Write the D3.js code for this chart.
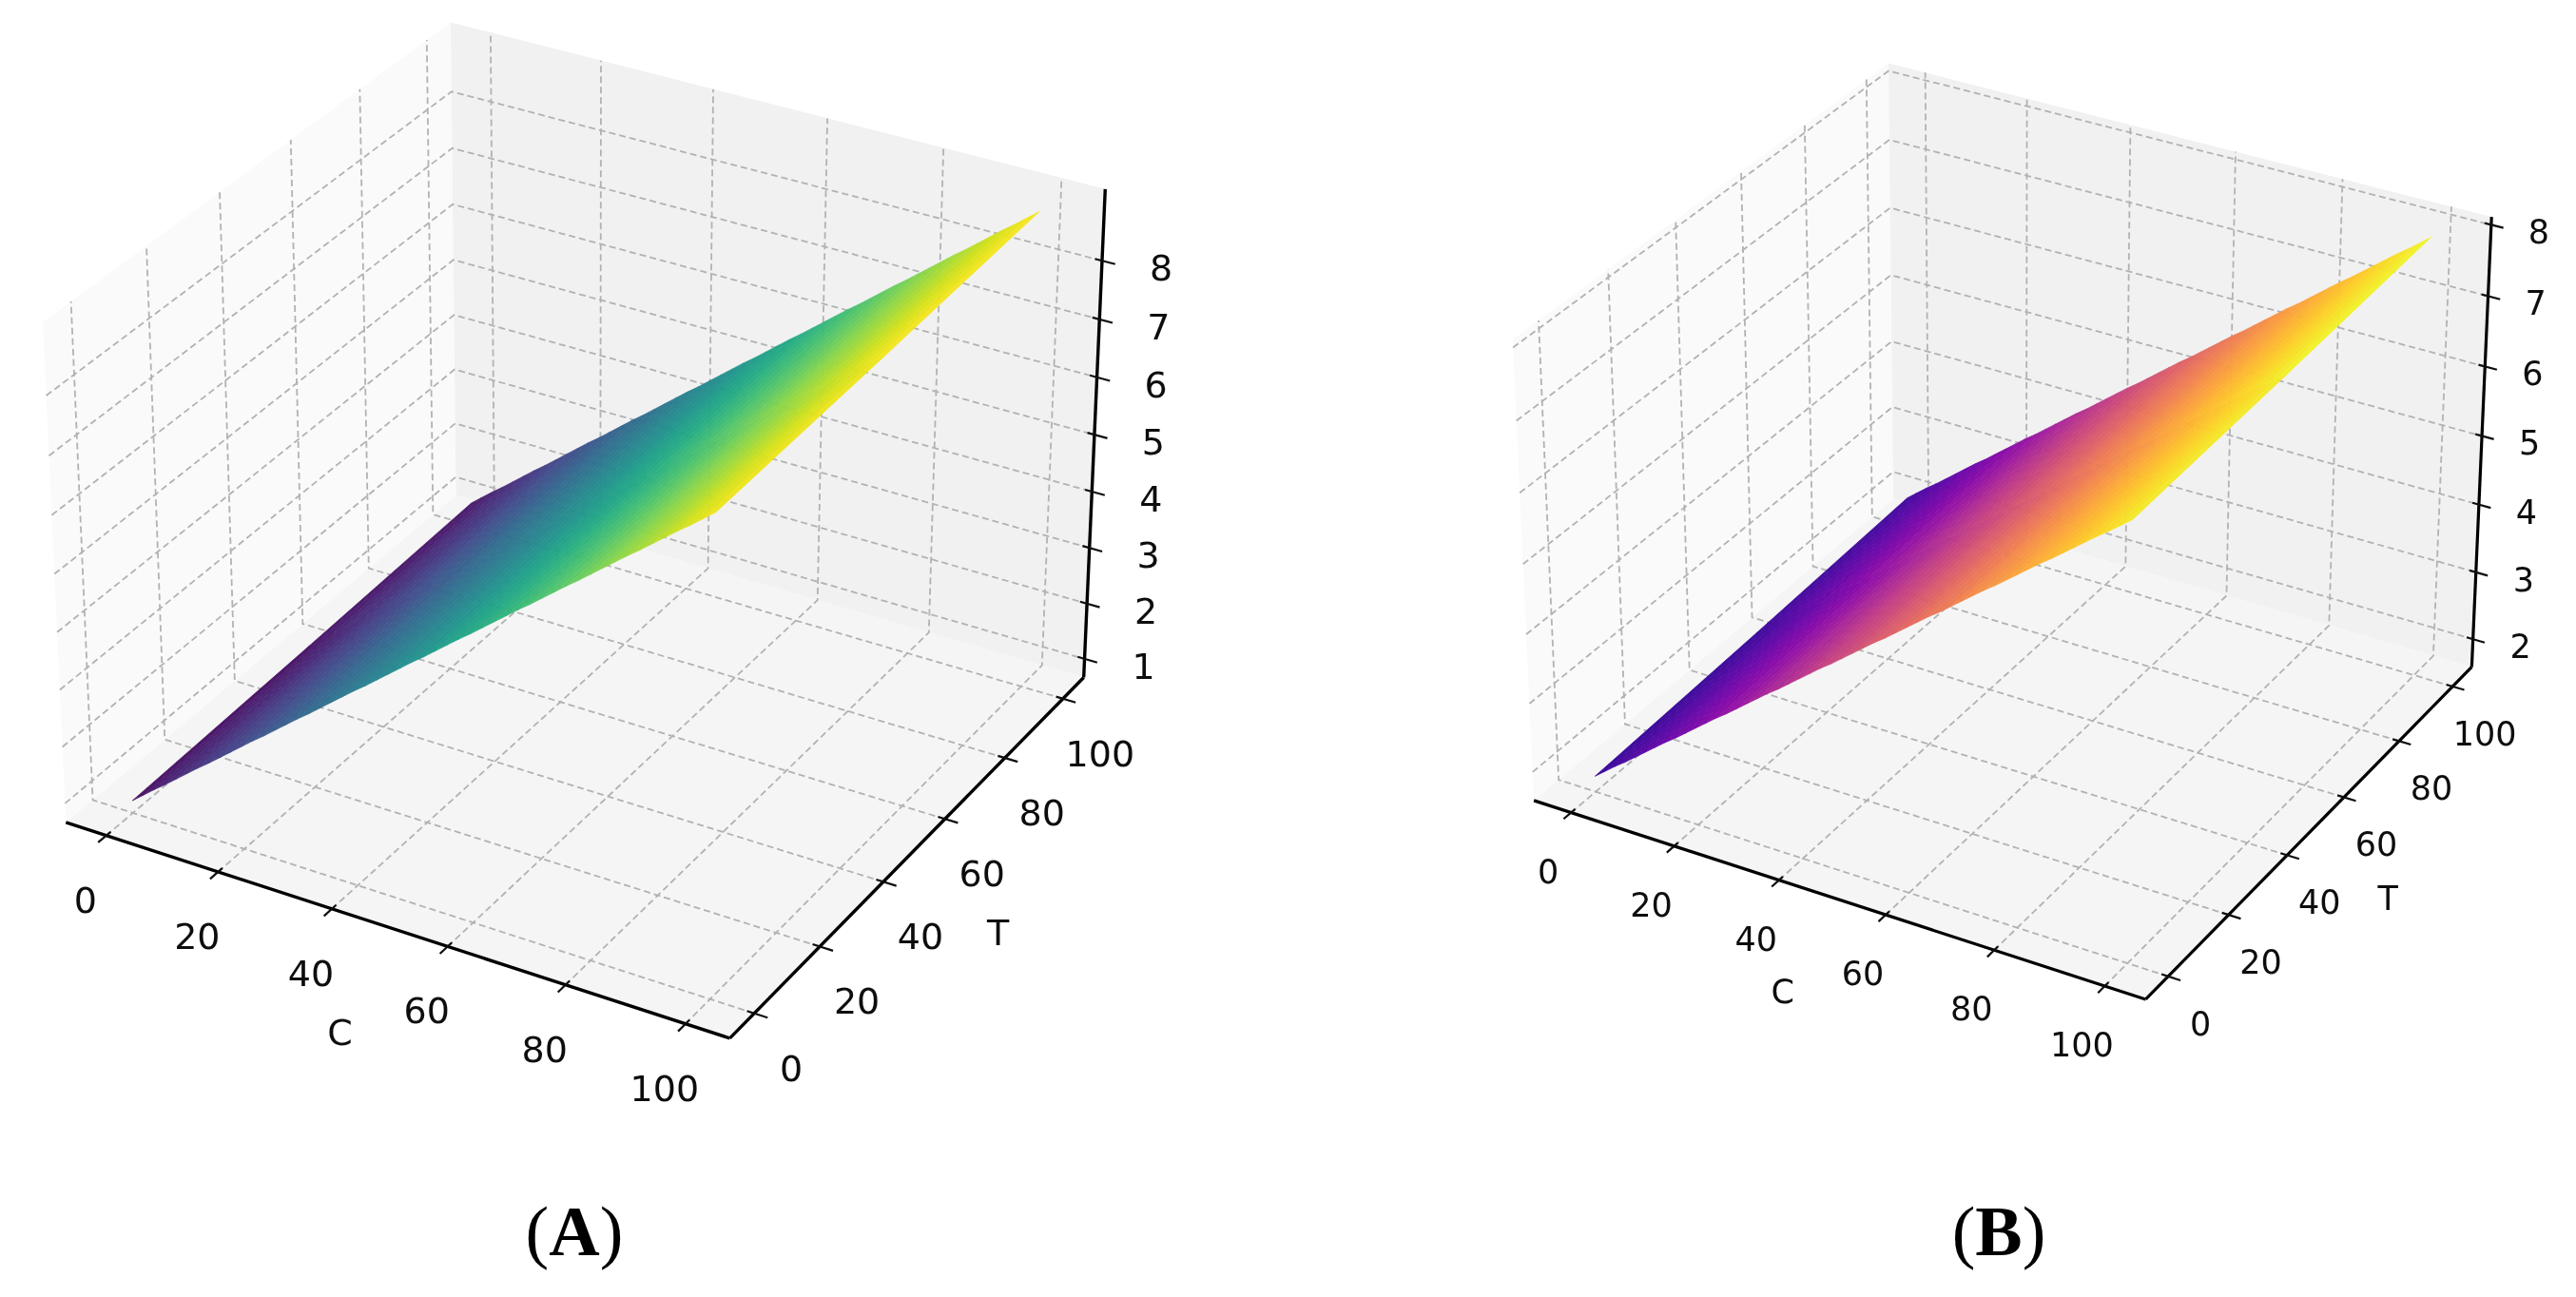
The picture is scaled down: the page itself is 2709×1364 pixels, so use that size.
<!DOCTYPE html>
<html><head><meta charset="utf-8">
<script src="https://cdn.jsdelivr.net/npm/d3@7"></script>
<style>html,body{margin:0;padding:0;background:#fff}svg{display:block}text{font-family:"DejaVu Sans",sans-serif}</style>
</head><body><svg id="chart" width="2709" height="1364" xmlns="http://www.w3.org/2000/svg"></svg>
<script>
const cGrid=[0,2,4,6,8,10,12,14,16,18,20,22,24,26,28,30,32,34,36,38,40,42,44,46,48,50,52,54,56,58,60,62,64,66,68,70,72,74,76,78,80,82,84,86,88,90,92,94,96,98,100];
const tGrid=[0,50,100];
const axisTicks=[0,20,40,60,80,100];
const zTicksA=[1,2,3,4,5,6,7,8];
const zTicksB=[2,3,4,5,6,7,8];
const zA_t0=[.88,1.04,1.20,1.35,1.51,1.67,1.83,1.98,2.14,2.30,2.46,2.62,2.77,2.93,3.09,3.25,3.40,3.56,3.72,3.88,4.04,4.19,4.35,4.51,4.67,4.83,4.98,5.14,5.30,5.46,5.61,5.77,5.93,6.09,6.25,6.40,6.56,6.72,6.88,7.03,7.19,7.35,7.51,7.67,7.82,7.98,8.14,8.30,8.45,8.61,8.77];
const zA_t50=[.97,1.13,1.28,1.44,1.60,1.75,1.91,2.07,2.23,2.38,2.54,2.70,2.86,3.02,3.17,3.33,3.49,3.65,3.80,3.96,4.12,4.28,4.44,4.59,4.75,4.91,5.07,5.23,5.38,5.54,5.70,5.86,6.02,6.17,6.33,6.49,6.65,6.80,6.96,7.12,7.28,7.44,7.59,7.75,7.91,8.07,8.22,8.38,8.54,8.70,8.86];
const zA_t100=[1.08,1.24,1.40,1.55,1.71,1.87,2.03,2.18,2.34,2.50,2.66,2.82,2.97,3.13,3.29,3.45,3.60,3.76,3.92,4.08,4.24,4.39,4.55,4.71,4.87,5.03,5.18,5.34,5.50,5.66,5.81,5.97,6.13,6.29,6.45,6.60,6.76,6.92,7.08,7.23,7.39,7.55,7.71,7.87,8.02,8.18,8.34,8.50,8.65,8.81,8.97];
const zB_t0=[1.81,1.93,2.05,2.16,2.28,2.40,2.52,2.64,2.75,2.87,2.99,3.11,3.23,3.34,3.46,3.58,3.70,3.82,3.93,4.05,4.17,4.29,4.41,4.52,4.64,4.76,4.88,5.00,5.11,5.23,5.35,5.47,5.59,5.70,5.82,5.94,6.06,6.18,6.29,6.41,6.53,6.65,6.77,6.88,7.00,7.12,7.24,7.36,7.47,7.59,7.71];
const zB_t50=[1.91,2.03,2.15,2.26,2.38,2.50,2.62,2.74,2.85,2.97,3.09,3.21,3.33,3.44,3.56,3.68,3.80,3.92,4.03,4.15,4.27,4.39,4.51,4.62,4.74,4.86,4.98,5.10,5.21,5.33,5.45,5.57,5.69,5.80,5.92,6.04,6.16,6.28,6.39,6.51,6.63,6.75,6.87,6.98,7.10,7.22,7.34,7.46,7.57,7.69,7.81];
const zB_t100=[2.03,2.15,2.27,2.38,2.50,2.62,2.74,2.86,2.97,3.09,3.21,3.33,3.45,3.56,3.68,3.80,3.92,4.04,4.15,4.27,4.39,4.51,4.63,4.74,4.86,4.98,5.10,5.22,5.33,5.45,5.57,5.69,5.81,5.92,6.04,6.16,6.28,6.40,6.51,6.63,6.75,6.87,6.99,7.10,7.22,7.34,7.46,7.58,7.69,7.81,7.93];

const svg=d3.select("#chart");
const defs=svg.append("defs");
defs.append("filter").attr("id","soft").attr("x","-5%").attr("y","-5%").attr("width","110%").attr("height","110%")
  .append("feGaussianBlur").attr("stdDeviation",0.5);

function panel(o){
  const g=svg.append("g").attr("filter","url(#soft)");
  const [lo,hi]=[-7.3,107.3];
  const hx=0.5715,hz=0.4286;
  const sc=d3.scaleLinear().domain([lo,hi]).range([-hx,hx]);
  const sz=d3.scaleLinear().domain(o.zlim).range([-hz,hz]);
  const k=o.scale;
  const sx=d3.scaleLinear().domain([0,1]).range([o.tx,o.tx+k]);
  const sy=d3.scaleLinear().domain([0,1]).range([o.ty,o.ty-k]);
  const P=(c,t,z)=>{
    const a=sc(c),b=sc(t),d=sz(z);
    const xv=a*0.8660254+b*0.5;
    const yv=-0.25*a+0.4330127*b+0.8660254*d;
    const zn=0.4330127*a-0.75*b+0.5*d;
    const w=10-zn;
    return [sx(xv/w),sy(yv/w)];
  };
  const line=d3.line();
  const [z0,z1]=o.zlim;
  const poly=(pts,fill)=>g.append("path").attr("d",line(pts)+"Z").attr("fill",fill);
  poly([P(lo,lo,z0),P(lo,hi,z0),P(lo,hi,z1),P(lo,lo,z1)],"#fafafa");
  poly([P(lo,hi,z0),P(hi,hi,z0),P(hi,hi,z1),P(lo,hi,z1)],"#f1f1f1");
  poly([P(lo,lo,z0),P(hi,lo,z0),P(hi,hi,z0),P(lo,hi,z0)],"#f5f5f5");
  const grid=pts=>g.append("path").attr("d",line(pts)).attr("fill","none")
    .attr("stroke","#b2b2b2").attr("stroke-width",1.8).attr("stroke-dasharray","7 4");
  axisTicks.forEach(v=>{
    grid([P(v,lo,z0),P(v,hi,z0),P(v,hi,z1)]);
    grid([P(hi,v,z0),P(lo,v,z0),P(lo,v,z1)]);
  });
  o.zTicks.forEach(v=>grid([P(lo,lo,v),P(lo,hi,v),P(hi,hi,v)]));
  // surface
  const flat=o.rows.flat();
  const color=d3.scaleSequential(u=>o.cmap(o.cLow+(1-o.cLow)*u)).domain(d3.extent(flat));
  const sf=g.append("g").attr("opacity",0.96);
  for(let j=tGrid.length-2;j>=0;j--){
    for(let i=0;i<cGrid.length-1;i++){
      const c0=cGrid[i],c1=cGrid[i+1],t0=tGrid[j],t1=tGrid[j+1];
      const r0=o.rows[j],r1=o.rows[j+1];
      const col=color((r0[i]+r0[i+1]+r1[i]+r1[i+1])/4);
      sf.append("path").attr("d",line([P(c0,t0,r0[i]),P(c1,t0,r0[i+1]),P(c1,t1,r1[i+1]),P(c0,t1,r1[i])])+"Z")
        .attr("fill",col).attr("stroke",col).attr("stroke-width",0.8);
    }
  }
  // axes
  const ax=(a,b,w,col)=>g.append("line").attr("x1",a[0]).attr("y1",a[1]).attr("x2",b[0]).attr("y2",b[1])
    .attr("stroke",col).attr("stroke-width",w);
  ax(P(lo,lo,z0),P(hi,lo,z0),o.axisW,"#000");
  ax(P(hi,lo,z0),P(hi,hi,z0),o.axisW,"#000");
  ax(P(hi,hi,z0),P(hi,hi,z1),o.axisW,"#000");
  const label=(p,dx,dy,txt,fs)=>g.append("text").attr("x",p[0]+dx).attr("y",p[1]+dy)
    .attr("text-anchor","middle").attr("dominant-baseline","central")
    .attr("font-size",fs).attr("fill","#111").text(txt);
  const tin=1.2,tout=2.2;
  axisTicks.forEach(v=>{
    ax(P(v,lo-tout,z0),P(v,lo+tin,z0),o.tickW,"#111");
    ax(P(hi-tin,v,z0),P(hi+tout,v,z0),o.tickW,"#111");
    label(P(v,lo,z0),o.cOff[0],o.cOff[1],v,o.fs);
    label(P(hi,v,z0),o.tOff[0],o.tOff[1],v,o.fs);
  });
  o.zTicks.forEach(v=>{
    ax(P(hi-tin,hi,v),P(hi+tout,hi,v),o.tickW,"#111");
    label(P(hi,hi,v),o.zOff[0],o.zOff[1],v,o.fs);
  });
  label(P(50,lo,z0),o.cLab[0],o.cLab[1],"C",o.fs);
  label(P(hi,50,z0),o.tLab[0],o.tLab[1],"T",o.fs);
}

panel({scale:7000,tx:614,ty:533,zlim:[.66,9.21],zTicks:zTicksA,rows:[zA_t0,zA_t50,zA_t100],
  cmap:d3.interpolateViridis,cLow:0.03,fs:38,axisW:3.4,tickW:2.2,
  cOff:[-22,68],tOff:[39,58],zOff:[62,8],cLab:[-52,110],tLab:[88,87]});
panel({scale:6450,tx:2115,ty:536,zlim:[1.58,8.11],zTicks:zTicksB,rows:[zB_t0,zB_t50,zB_t100],
  cmap:d3.interpolatePlasma,cLow:0.06,fs:35,axisW:3.2,tickW:2.2,
  cOff:[-24,62],tOff:[34,50],zOff:[50,8],cLab:[-52,99],tLab:[76,76]});

const captions=[["A",604],["B",2102]];
captions.forEach(([name,x])=>{
  const t=svg.append("text").attr("x",x).attr("y",1320).attr("text-anchor","middle")
    .attr("font-size",74).attr("fill","#000").style("font-family","'Liberation Serif',serif");
  t.append("tspan").text("(");
  t.append("tspan").attr("font-weight","bold").text(name);
  t.append("tspan").text(")");
});
</script></body></html>
